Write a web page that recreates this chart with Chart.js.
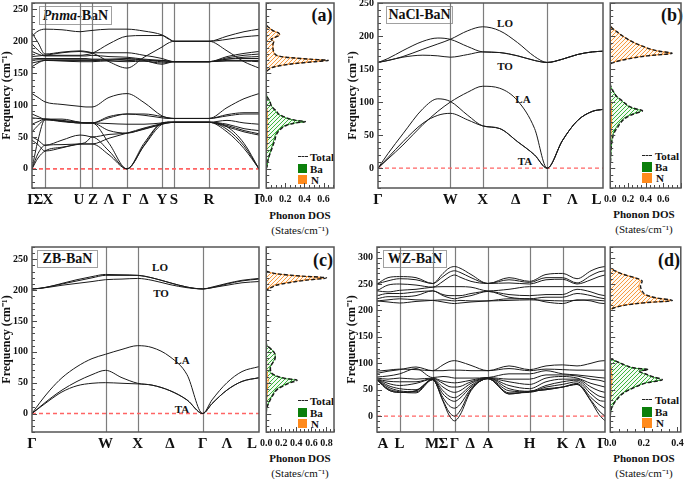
<!DOCTYPE html>
<html>
<head>
<meta charset="utf-8">
<script src="https://cdn.jsdelivr.net/npm/chart.js@4.4.1/dist/chart.umd.min.js"></script>
<style>
  html, body { margin: 0; padding: 0; background: #fff; }
  body { position: relative; width: 685px; height: 479px; overflow: hidden; font-family: 'Liberation Serif', 'Times New Roman', serif; color: #111; }
  canvas { position: absolute; }
  .t { position: absolute; transform: translate(-50%, -50%); white-space: nowrap; line-height: 1; }
  .l { position: absolute; transform: translate(0, -50%); white-space: nowrap; line-height: 1; font-weight: bold; font-size: 11px; }
  .bold { font-weight: bold; }
  .box { position: absolute; box-sizing: border-box; border: 1.5px solid #a0a0a0; background: #fff; font-weight: bold; font-size: 14px; display: flex; align-items: center; justify-content: center; }
  .sq { position: absolute; width: 9px; height: 9px; }
  .dash { position: absolute; width: 10px; border-top: 1.6px dashed #222; }
</style>
</head>
<body>
<!-- titres des panneaux -->
<div class="box" style="left:39px;top:6px;width:73px;height:19px"><i>Pnma</i>-BaN</div>
<div class="box" style="left:386px;top:6px;width:67px;height:18px">NaCl-BaN</div>
<div class="box" style="left:37px;top:250px;width:61px;height:18px">ZB-BaN</div>
<div class="box" style="left:383px;top:250px;width:64px;height:18px">WZ-BaN</div>

<div class="t bold" style="left:322px;top:15px;font-size:18px">(a)</div>
<div class="t bold" style="left:672px;top:15px;font-size:18px">(b)</div>
<div class="t bold" style="left:323px;top:260px;font-size:18px">(c)</div>
<div class="t bold" style="left:669px;top:260px;font-size:18px">(d)</div>

<!-- modes -->
<div class="t bold" style="left:505px;top:23px;font-size:11px">LO</div>
<div class="t bold" style="left:505px;top:66px;font-size:11px">TO</div>
<div class="t bold" style="left:523px;top:99px;font-size:11px">LA</div>
<div class="t bold" style="left:525px;top:161px;font-size:11px">TA</div>
<div class="t bold" style="left:160px;top:267px;font-size:11px">LO</div>
<div class="t bold" style="left:161px;top:293px;font-size:11px">TO</div>
<div class="t bold" style="left:182px;top:360px;font-size:11px">LA</div>
<div class="t bold" style="left:182px;top:409px;font-size:11px">TA</div>

<!-- légendes DOS -->
<div class="dash" style="left:298px;top:156px"></div><div class="l" style="left:310px;top:157px">Total</div>
<div class="sq" style="left:298px;top:164px;background:#0b7f0b"></div><div class="l" style="left:310px;top:168.5px">Ba</div>
<div class="sq" style="left:298px;top:175px;background:#ff8a1c"></div><div class="l" style="left:311px;top:179.5px">N</div>

<div class="dash" style="left:642px;top:155px"></div><div class="l" style="left:655px;top:156px">Total</div>
<div class="sq" style="left:642px;top:162px;width:10px;height:10px;background:#0b7f0b"></div><div class="l" style="left:655px;top:167px">Ba</div>
<div class="sq" style="left:642px;top:173px;width:10px;height:10px;background:#ff8a1c"></div><div class="l" style="left:656px;top:178px">N</div>

<div class="dash" style="left:298px;top:400px"></div><div class="l" style="left:310px;top:401px">Total</div>
<div class="sq" style="left:298px;top:408px;background:#0b7f0b"></div><div class="l" style="left:310px;top:412.5px">Ba</div>
<div class="sq" style="left:298px;top:419px;background:#ff8a1c"></div><div class="l" style="left:311px;top:423.5px">N</div>

<div class="dash" style="left:642px;top:399px"></div><div class="l" style="left:655px;top:400px">Total</div>
<div class="sq" style="left:642px;top:407px;width:10px;height:10px;background:#0b7f0b"></div><div class="l" style="left:655px;top:412px">Ba</div>
<div class="sq" style="left:642px;top:418px;width:10px;height:10px;background:#ff8a1c"></div><div class="l" style="left:656px;top:423px">N</div>

<div class="t bold" style="left:300px;top:215px;font-size:11px">Phonon DOS</div>
<div class="t" style="left:300px;top:230px;font-size:11px">(States/cm⁻¹)</div>
<div class="t bold" style="left:644px;top:214px;font-size:11px">Phonon DOS</div>
<div class="t" style="left:644px;top:229px;font-size:11px">(States/cm⁻¹)</div>
<div class="t bold" style="left:300px;top:458px;font-size:11px">Phonon DOS</div>
<div class="t" style="left:300px;top:473px;font-size:11px">(States/cm⁻¹)</div>
<div class="t bold" style="left:644px;top:458px;font-size:11px">Phonon DOS</div>
<div class="t" style="left:644px;top:473px;font-size:11px">(States/cm⁻¹)</div>

<script>
const FONT = "'Liberation Serif', 'Times New Roman', serif";

// ---- (a) Pnma-BaN : chemin Γ-X-U-Z-Γ-Y-S-R-Γ
const kPnma = [0, 6, 13, 30, 48, 54, 60, 77, 95, 112, 130, 136, 142, 160, 177, 195, 212, 227];
const symPnma = [13, 48, 60, 95, 130, 142, 177];
const labPosPnma = [0, 6.5, 16, 47, 61, 77, 95, 112, 130, 142, 177, 227];
const labPnma = ['Γ', 'Σ', 'X', 'U', 'Z', 'Λ', 'Γ', 'Δ', 'Y', 'S', 'R', 'Γ'];
const pnmaOptical = [
  [208, 216, 219, 218, 215, 216, 217, 219, 219, 216, 210, 205, 200, 200, 200, 208, 215, 219],
  [213, 198, 180, 183, 185, 184, 182, 168, 158, 175, 191, 197, 200, 200, 200, 185, 168, 158],
  [196, 186, 178, 178, 178, 179, 181, 196, 208, 209, 209, 204, 200, 200, 200, 203, 207, 209],
  [170, 171, 171, 171, 171, 171, 171, 171, 170, 169, 166, 167, 168, 168, 168, 170, 170, 170],
  [172, 173, 173, 173, 173, 173, 172, 172, 173, 170, 164, 166, 168, 168, 168, 172, 173, 173],
  [160, 166, 170, 170, 170, 170, 170, 169, 168, 169, 170, 169, 168, 168, 168, 169, 169, 168],
  [184, 180, 177, 177, 177, 177, 178, 176, 175, 172, 170, 169, 168, 168, 168, 176, 181, 184],
  [176, 177, 178, 182, 184, 183, 182, 182, 182, 178, 173, 170, 168, 168, 168, 172, 175, 176],
  [166, 168, 170, 169, 168, 168, 168, 170, 172, 171, 168, 168, 168, 168, 168, 174, 178, 180]
];
const pnmaAcoustic = [
  [118, 112, 105, 101, 98, 97, 97, 112, 118, 104, 83, 80, 79, 79, 79, 96, 110, 118],
  [86, 82, 78, 78, 73, 72, 72, 82, 86, 86, 82, 80, 79, 79, 79, 85, 88, 88],
  [80, 79, 78, 76, 73, 72, 72, 80, 86, 84, 80, 79, 79, 79, 79, 83, 86, 86],
  [70, 74, 78, 75, 72, 72, 72, 71, 70, 70, 72, 73, 73, 73, 73, 76, 72, 70],
  [58, 68, 77, 74, 72, 72, 72, 60, 56, 63, 70, 73, 73, 73, 73, 70, 63, 60],
  [50, 45, 37, 45, 53, 52, 50, 54, 56, 62, 70, 72, 73, 73, 73, 68, 60, 55],
  [45, 38, 28, 33, 39, 39, 39, 48, 56, 64, 71, 73, 73, 73, 73, 66, 58, 53],
  [0, 24, 37, 38, 39, 39, 39, 22, 0, 36, 70, 72, 73, 73, 73, 58, 32, 0],
  [0, 17, 28, 34, 39, 42, 50, 28, 0, 37, 72, 73, 73, 73, 73, 62, 36, 0],
  [0, 45, 77, 75, 72, 72, 72, 40, 0, 40, 72, 73, 73, 73, 73, 66, 40, 0]
];

// ---- (b) NaCl-BaN : Γ-W-X-Γ-L
const kNaCl = [0, 10, 25, 45, 60, 72.5, 90, 105, 122, 140, 157, 169.6, 185, 200, 215, 225.6];
const symNaCl = [72.5, 105, 169.6];
const labPosNaCl = [0, 72.5, 105, 138, 169.6, 195, 219];
const labNaCl = ['Γ', 'W', 'X', 'Δ', 'Γ', 'Λ', 'L'];
const naclBranches = [
  [160, 163, 169, 180, 188, 195, 208, 214, 208, 190, 169, 160, 165, 172, 176, 177],
  [160, 166, 178, 192, 197, 195, 184, 176, 175, 170, 163, 160, 165, 172, 176, 177],
  [160, 163, 168, 171, 170, 168, 172, 176, 175, 170, 163, 160, 165, 172, 176, 177],
  [0, 14, 35, 66, 86, 100, 115, 124, 121, 102, 60, 0, 42, 72, 86, 89],
  [0, 22, 52, 90, 105, 101, 80, 64, 60, 40, 20, 0, 42, 72, 86, 89],
  [0, 16, 40, 68, 80, 83, 73, 64, 60, 40, 20, 0, 42, 72, 86, 89]
];

// ---- (c) ZB-BaN : Γ-W-X-Γ-L
const kZB = [0, 8, 18, 30, 45, 60, 73.5, 90, 105.7, 120, 138, 155, 170.7, 180, 195, 210, 227];
const symZB = [73.5, 105.7, 170.7];
const labPosZB = [0, 73.5, 105.7, 138, 170.7, 195, 220];
const labZB = ['Γ', 'W', 'X', 'Δ', 'Γ', 'Λ', 'L'];
const zbBranches = [
  [202, 203, 206, 211, 217, 222, 225.5, 225, 224, 220, 212, 205, 202, 205, 211, 216, 219],
  [202, 203, 206, 210, 215, 220, 224, 224, 224, 220, 212, 205, 202, 204, 210, 215, 218],
  [202, 203, 205, 208, 211, 214, 217, 218, 219, 216, 209, 204, 202, 204, 208, 212, 214],
  [0, 18, 38, 58, 76, 89, 96, 104, 110, 107, 92, 63, 0, 22, 50, 68, 76],
  [0, 11, 24, 38, 52, 63, 70, 58, 49, 46, 37, 22, 0, 16, 38, 52, 58],
  [0, 10, 22, 35, 45, 49, 50, 49, 48, 46, 37, 22, 0, 16, 38, 52, 58]
];

// ---- (d) WZ-BaN : A-L-M-Γ-A-H-K-Γ
const kWZ = [0, 11, 22.6, 39, 55.6, 66, 72, 77.6, 83, 94, 111, 132, 152.6, 169, 185.6, 200, 214, 222, 228];
const symWZ = [22.6, 55.6, 77.6, 111, 152.6, 185.6];
const labPosWZ = [6, 22.6, 55, 66.3, 77.6, 93.3, 111, 152.6, 185.6, 203.3, 225];
const labWZ = ['A', 'L', 'M', 'Σ', 'Γ', 'Δ', 'A', 'H', 'K', 'Λ', 'Γ'];
const wzOptical = [
  [250, 262, 264, 262, 251, 270, 280, 283, 280, 268, 251, 262, 255, 268, 270, 260, 275, 281, 283],
  [250, 256, 260, 258, 251, 264, 272, 275, 272, 262, 251, 258, 253, 262, 262, 252, 266, 273, 275],
  [237, 248, 250, 248, 244, 255, 263, 267, 263, 255, 251, 252, 250, 258, 259, 250, 258, 264, 267],
  [237, 235, 238, 240, 244, 245, 245, 245, 245, 244, 237, 240, 245, 245, 245, 245, 245, 245, 245],
  [228, 232, 232, 235, 237, 230, 228, 228, 228, 232, 236, 230, 228, 230, 230, 240, 235, 230, 228],
  [222, 226, 226, 228, 237, 228, 224, 222, 224, 228, 236, 225, 222, 225, 225, 232, 228, 224, 222],
  [218, 220, 222, 220, 219, 216, 214, 213, 214, 216, 218, 222, 222, 216, 213, 220, 218, 214, 213],
  [218, 216, 214, 217, 219, 220, 219, 218, 219, 218, 218, 219, 220, 219, 218, 219, 220, 219, 218]
];
const wzAcoustic = [
  [85, 87, 89, 88, 86, 97, 103, 105, 103, 96, 86, 95, 88, 95, 97, 95, 100, 104, 105],
  [81, 85, 88, 93, 86, 86, 87, 87, 87, 86, 86, 90, 86, 89, 88, 87, 87, 87, 87],
  [74, 76, 80, 90, 73, 75, 74, 72, 72, 72, 73, 80, 80, 86, 80, 78, 75, 73, 72],
  [72, 70, 72, 70, 72, 66, 64, 63, 64, 68, 73, 70, 70, 78, 78, 76, 70, 68, 65],
  [70, 66, 65, 65, 71, 62, 56, 55, 56, 65, 72, 65, 60, 72, 75, 72, 62, 58, 55],
  [70, 62, 58, 62, 70, 55, 48, 45, 48, 62, 72, 58, 52, 65, 70, 70, 55, 48, 45],
  [70, 58, 52, 50, 70, 48, 38, 35, 40, 58, 72, 52, 47, 58, 65, 68, 48, 38, 35],
  [69, 55, 48, 46, 70, 42, 32, 28, 34, 55, 71, 48, 46, 55, 60, 65, 42, 30, 28],
  [69, 52, 46, 44, 69, 35, 20, 15, 22, 52, 71, 44, 45, 52, 55, 62, 35, 22, 15],
  [69, 50, 45, 48, 69, 30, 8, 0, 10, 50, 71, 42, 47, 50, 55, 60, 30, 10, 0],
  [69, 50, 45, 48, 69, 28, 2, -9, 2, 48, 71, 42, 47, 50, 55, 60, 28, 3, -9]
];

// ---- DOS (fréquence en cm-1, DOS en états/cm-1)
const freqPnma = [0, 5, 15, 30, 45, 55, 62, 68, 72, 74, 76, 79, 82, 86, 90, 95, 100, 105, 110, 115, 120, 150, 155, 160, 165, 168, 170, 172, 175, 178, 182, 190, 195, 200, 203, 206, 210, 213, 216, 220, 225, 230];
const baPnma = [0, .01, .02, .05, .08, .10, .14, .20, .30, .40, .30, .22, .17, .12, .10, .07, .05, .04, .02, .005, 0, 0, 0, .01, .02, .03, .03, .02, .01, .01, .005, 0, 0, 0, 0, 0, 0, 0, 0, 0, 0, 0];
const nPnma = [0, 0, 0, .005, .01, .01, .01, .01, .01, .01, .01, .01, .01, .01, .01, .005, 0, 0, 0, 0, 0, 0, .02, .08, .28, .48, .62, .44, .2, .1, .08, .07, .07, .08, .05, .09, .14, .13, .08, .04, .005, 0];
const totPnma = [0, .01, .02, .055, .09, .11, .15, .21, .31, .41, .31, .23, .18, .13, .11, .075, .05, .04, .02, .005, 0, 0, .02, .09, .30, .51, .65, .46, .21, .11, .085, .07, .07, .08, .05, .09, .14, .13, .08, .04, .005, 0];

const freqNaCl = [0, 15, 30, 45, 55, 62, 70, 77, 82, 87, 90, 94, 97, 103, 109, 115, 122, 130, 155, 158, 160, 163, 167, 170, 174, 177, 180, 184, 190, 195, 200, 207, 215, 220];
const baNaCl = [0, .005, .01, .02, .04, .07, .11, .17, .25, .35, .27, .2, .17, .12, .07, .04, .01, 0, 0, 0, .01, .02, .02, .02, .02, .01, .01, .01, 0, 0, 0, 0, 0, 0];
const nNaCl = [0, 0, 0, .005, .01, .015, .015, .015, .015, .015, .015, .01, .01, .005, 0, 0, 0, 0, 0, .005, .03, .1, .25, .4, .68, .55, .45, .37, .27, .2, .14, .07, .005, 0];
const totNaCl = [0, .005, .01, .025, .05, .085, .125, .185, .265, .365, .285, .21, .18, .125, .07, .04, .01, 0, 0, .005, .04, .12, .27, .42, .70, .56, .46, .38, .27, .2, .14, .07, .005, 0];

const freqZB = [0, 10, 20, 30, 40, 46, 50, 54, 57, 62, 68, 74, 80, 88, 94, 100, 105, 111, 120, 195, 199, 202, 205, 208, 212, 216, 220, 223, 226, 228, 231, 235];
const baZB = [0, .01, .04, .08, .14, .23, .30, .38, .23, .1, .05, .05, .07, .11, .12, .1, .06, .005, 0, 0, 0, .01, .02, .03, .04, .04, .04, .03, .02, .01, 0, 0];
const nZB = [0, 0, .005, .01, .015, .02, .02, .03, .02, .015, .01, .005, .005, .005, 0, 0, 0, 0, 0, 0, 0, .02, .06, .1, .26, .48, .76, .42, .16, .07, .005, 0];
const totZB = [0, .01, .045, .09, .155, .25, .32, .41, .25, .115, .06, .055, .075, .115, .12, .1, .06, .005, 0, 0, 0, .03, .08, .13, .30, .52, .80, .45, .18, .08, .005, 0];

const freqWZ = [0, 12, 20, 31, 44, 53, 63, 69, 74, 79, 85, 88, 91, 96, 101, 106, 110, 120, 195, 200, 205, 210, 214.6, 218.6, 224, 230, 236.7, 246, 255.6, 260, 268, 274.7, 281, 290];
const baWZ = [0, .005, .015, .035, .075, .13, .21, .30, .25, .21, .17, .22, .14, .09, .055, .02, 0, 0, 0, 0, .005, .01, .01, .01, .01, .01, .01, .01, .01, .005, 0, 0, 0, 0];
const nWZ = [0, 0, 0, .003, .005, .005, .008, .01, .01, .008, .006, .006, .005, .003, 0, 0, 0, 0, 0, 0, .02, .08, .2, .36, .26, .2, .18, .17, .18, .16, .08, .03, 0, 0];
const totWZ = [0, .005, .015, .038, .08, .135, .218, .31, .26, .218, .176, .226, .145, .093, .055, .02, 0, 0, 0, 0, .025, .09, .21, .37, .27, .21, .19, .18, .19, .165, .08, .03, 0, 0];

const ticksFreq250 = [0, 50, 100, 150, 200, 250];
const ticksFreq300 = [0, 50, 100, 150, 200, 250, 300];
const ticksDos06 = [0, 0.2, 0.4, 0.6];
const ticksDos08 = [0, 0.2, 0.4, 0.6, 0.8];
const ticksDos04 = [0, 0.2, 0.4];

// cadre + petits ticks vers l'intérieur + lignes des points de haute symétrie
const framePlugin = {
  id: 'frame',
  beforeDatasetsDraw(chart, args, o) {
    const { ctx, chartArea: a, scales: { x } } = chart;
    ctx.save();
    ctx.strokeStyle = '#7d7d7d';
    ctx.lineWidth = 1.2;
    (o.sym || []).forEach(v => {
      const px = Math.round(x.getPixelForValue(v)) + 0.5;
      ctx.beginPath(); ctx.moveTo(px, a.top); ctx.lineTo(px, a.bottom); ctx.stroke();
    });
    ctx.restore();
  },
  afterDraw(chart, args, o) {
    const { ctx, chartArea: a, scales: { x, y } } = chart;
    ctx.save();
    ctx.strokeStyle = '#4a4a4a';
    ctx.lineWidth = 1;
    ctx.beginPath();
    for (let v = Math.ceil(y.min / o.yMinor) * o.yMinor; v <= y.max; v += o.yMinor) {
      const py = Math.round(y.getPixelForValue(v)) + 0.5;
      const len = v % o.yMajor === 0 ? 5 : 3;
      ctx.moveTo(a.left, py); ctx.lineTo(a.left + len, py);
    }
    if (o.xMinor) {
      const per = Math.round(o.xMajor / o.xMinor);
      for (let i = 0; i * o.xMinor <= x.max + 1e-9; i++) {
        const px = Math.round(x.getPixelForValue(i * o.xMinor)) + 0.5;
        const len = i % per === 0 ? 5 : 3;
        ctx.moveTo(px, a.bottom); ctx.lineTo(px, a.bottom - len);
      }
    }
    ctx.stroke();
    ctx.strokeStyle = '#555';
    ctx.lineWidth = 1.5;
    ctx.strokeRect(a.left, a.top, a.right - a.left, a.bottom - a.top);
    ctx.restore();
  }
};

function addCanvas(left, top, w, h) {
  const c = document.createElement('canvas');
  c.width = w; c.height = h;
  c.style.left = left + 'px'; c.style.top = top + 'px';
  c.style.width = w + 'px'; c.style.height = h + 'px';
  document.body.appendChild(c);
  return c;
}

// hachures "////" pixel par pixel (pas d'anti-aliasing)
function hatch(line, bg) {
  const c = document.createElement('canvas');
  c.width = 4; c.height = 4;
  const g = c.getContext('2d');
  g.fillStyle = bg;
  g.fillRect(0, 0, 4, 4);
  g.fillStyle = line;
  for (let i = 0; i < 4; i++) g.fillRect(i, 3 - i, 1, 1);
  return g.createPattern(c, 'repeat');
}

const boldFont = size => ({ family: FONT, weight: 'bold', size });

function dispersion(box, k, branches, yMin, yMax, yTicks, labPos, labNames, sym, zeroW) {
  const cv = addCanvas(box.l - 32, box.t - 10, box.r - box.l + 40, box.b - box.t + 32);
  const datasets = branches.map(b => ({
    data: b.map((v, i) => ({ x: k[i], y: v })),
    borderColor: '#1a1a1a', borderWidth: 1, pointRadius: 0,
    cubicInterpolationMode: 'monotone', fill: false
  }));
  // ligne rouge en pointillés à 0
  datasets.push({
    data: [{ x: k[0], y: 0 }, { x: k[k.length - 1], y: 0 }],
    borderColor: '#ff6464', borderWidth: zeroW, borderDash: [4, 3], pointRadius: 0, fill: false
  });
  new Chart(cv, {
    type: 'line',
    data: { datasets },
    options: {
      responsive: false, animation: false, events: [],
      layout: { padding: { top: 10, right: 8, left: 0, bottom: 0 } },
      plugins: { legend: { display: false }, tooltip: { enabled: false }, frame: { sym, yMinor: 10, yMajor: 50 } },
      scales: {
        x: {
          type: 'linear', min: 0, max: k[k.length - 1],
          afterBuildTicks: s => { s.ticks = labPos.map(v => ({ value: v })); },
          afterFit: s => { s.height = 22; },
          grid: { display: false, drawTicks: false }, border: { display: false },
          ticks: { autoSkip: false, maxRotation: 0, padding: 3, color: '#111', font: boldFont(15), callback: (v, i) => labNames[i] }
        },
        y: {
          type: 'linear', min: yMin, max: yMax,
          afterBuildTicks: s => { s.ticks = yTicks.map(v => ({ value: v })); },
          afterFit: s => { s.width = 32; },
          grid: { display: false, drawTicks: false }, border: { display: false },
          ticks: { padding: 4, color: '#111', font: boldFont(10) },
          title: { display: true, text: 'Frequency (cm⁻¹)', color: '#111', font: boldFont(12), padding: { top: 0, bottom: 0 } }
        }
      }
    },
    plugins: [framePlugin]
  });
}

function dos(box, freq, ba, n, tot, xMax, xTicks, yMin, yMax) {
  const cv = addCanvas(box.l - 10, box.t - 10, box.r - box.l + 18, box.b - box.t + 32);
  const pts = arr => arr.map((v, i) => ({ x: v, y: freq[i] }));
  new Chart(cv, {
    type: 'line',
    data: {
      datasets: [
        { data: pts(tot), borderColor: '#1a1a1a', borderWidth: 1.4, borderDash: [4, 2], pointRadius: 0, fill: false, cubicInterpolationMode: 'monotone', order: 0 },
        { data: pts(n), borderColor: '#ff8a1c', borderWidth: 1, backgroundColor: hatch('#f79a40', '#fffaf3'), pointRadius: 0, fill: 'origin', cubicInterpolationMode: 'monotone', order: 1 },
        { data: pts(ba), borderColor: '#22a022', borderWidth: 1, backgroundColor: hatch('#3cb43c', '#f3fbf3'), pointRadius: 0, fill: 'origin', cubicInterpolationMode: 'monotone', order: 2 }
      ]
    },
    options: {
      indexAxis: 'y',
      responsive: false, animation: false, events: [],
      layout: { padding: { top: 10, right: 8, left: 10, bottom: 0 } },
      plugins: { legend: { display: false }, tooltip: { enabled: false }, frame: { yMinor: 10, yMajor: 50, xMinor: 0.05, xMajor: 0.2 } },
      scales: {
        x: {
          type: 'linear', min: 0, max: xMax,
          afterBuildTicks: s => { s.ticks = xTicks.map(v => ({ value: v })); },
          afterFit: s => { s.height = 22; },
          grid: { display: false, drawTicks: false }, border: { display: false },
          ticks: { autoSkip: false, maxRotation: 0, padding: 5, color: '#111', font: boldFont(10), callback: v => v.toFixed(1) }
        },
        y: { type: 'linear', min: yMin, max: yMax, display: false }
      }
    },
    plugins: [framePlugin]
  });
}

dispersion({ l: 32, r: 259, t: 3, b: 188 }, kPnma, pnmaOptical.concat(pnmaAcoustic), -30, 260, ticksFreq250, labPosPnma, labPnma, symPnma, 1.8);
dos({ l: 265, r: 334, t: 3, b: 188 }, freqPnma, baPnma, nPnma, totPnma, 0.71, ticksDos06, -30, 260);

dispersion({ l: 378, r: 603, t: 3, b: 188 }, kNaCl, naclBranches, -30, 250, ticksFreq250, labPosNaCl, labNaCl, symNaCl, 1.2);
dos({ l: 609, r: 681, t: 3, b: 188 }, freqNaCl, baNaCl, nNaCl, totNaCl, 0.8, ticksDos06, -30, 250);

dispersion({ l: 32, r: 259, t: 247, b: 432 }, kZB, zbBranches, -30, 270, ticksFreq250, labPosZB, labZB, symZB, 1.5);
dos({ l: 265, r: 334, t: 247, b: 432 }, freqZB, baZB, nZB, totZB, 0.9, ticksDos08, -30, 270);

dispersion({ l: 377, r: 605, t: 247, b: 432 }, kWZ, wzOptical.concat(wzAcoustic), -30, 320, ticksFreq300, labPosWZ, labWZ, symWZ, 1.2);
dos({ l: 609, r: 681, t: 247, b: 432 }, freqWZ, baWZ, nWZ, totWZ, 0.42, ticksDos04, -30, 320);
</script>
</body>
</html>
